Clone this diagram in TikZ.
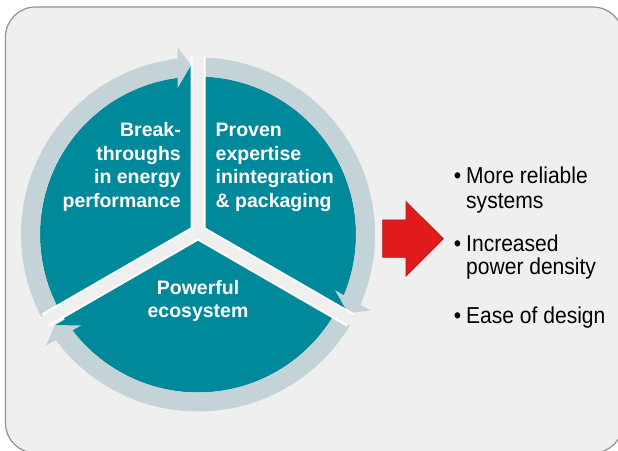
\documentclass[tikz,border=0pt]{standalone}
\usepackage{fontspec}
\setmainfont{Liberation Sans}
\newfontfamily\narrowsans[FakeStretch=0.915]{Liberation Sans}
\definecolor{tealc}{HTML}{00889B}
\definecolor{ringc}{HTML}{C3D3D7}
\definecolor{bgc}{HTML}{EFEFEF}
\definecolor{boxline}{HTML}{8E9397}
\definecolor{arrowred}{HTML}{E11A1B}
\definecolor{arrowedge}{HTML}{B8161A}
\tikzset{
  segtext/.style={text=white, inner sep=0pt, font=\fontsize{19.5}{23.5}\selectfont\bfseries},
  listtext/.style={text=black, inner sep=0pt, font=\narrowsans\fontsize{23}{25}\selectfont},
  ringband/.style={fill=ringc},
  tealpatch/.style={fill=tealc},
  gapedge/.style={white, line width=15pt},
  gapcore/.style={bgc, line width=11pt, line cap=round}
}
\newcommand{\cycleunit}{%
  \fill[ringband] (210:177) arc[start angle=210, end angle=96, radius=177]
     -- (96:158) arc[start angle=96, end angle=210, radius=158] -- cycle;
  \fill[tealpatch] (-7,169.5) -- (-20.3,146.5) -- (-7,146.5) -- cycle;
  \fill[ringband] (-7,169.5) -- (-20.3,187.2) -- (-20.3,146.5) -- cycle;
}
\begin{document}
\begin{tikzpicture}[x=1pt,y=1pt]
\useasboundingbox (0,0) rectangle (618,450);
\fill[white] (0,0) rectangle (618,450);
\draw[boxline, fill=bgc, line width=1.2pt, rounded corners=30pt] (5.5,443) rectangle (623,-3);

% teal disk
\fill[tealc] (198,215.5) circle (158);

% three arcs with arrowheads
\begin{scope}[shift={(198,215.5)}]
  \cycleunit
\end{scope}
\begin{scope}[shift={(198,215.5)}, rotate=-120]
  \cycleunit
\end{scope}
\begin{scope}[shift={(198,215.5)}, rotate=-240]
  \cycleunit
\end{scope}

% Y-shaped gap
\coordinate (g) at (198,218);
\draw[gapedge] (g) -- ++(90:176) (g) -- ++(-30:176) (g) -- ++(210:176);
\draw[gapcore] (g) -- ++(90:176) (g) -- ++(-30:176) (g) -- ++(210:176);

% segment texts
\node[segtext, anchor=base east] (l1) at (181,313) {Break-};
\node[segtext, anchor=base east] (l2) at (181,289.5) {throughs};
\node[segtext, anchor=base east] (l3) at (181,266) {in energy};
\node[segtext, anchor=base east] (l4) at (181,242.5) {performance};

\node[segtext, anchor=base west] (r1) at (215.5,313) {Proven};
\node[segtext, anchor=base west] (r2) at (215.5,289.5) {expertise};
\node[segtext, anchor=base west] (r3) at (215.5,266) {inintegration};
\node[segtext, anchor=base west] (r4) at (215.5,242.5) {\& packaging};

\node[segtext, anchor=base] (b1) at (198,155) {Powerful};
\node[segtext, anchor=base] (b2) at (198,132) {ecosystem};

% red block arrow
\fill[arrowred, draw=arrowedge, line width=0.8pt]
  (382.7,230) -- (406,230) -- (406,248.3) -- (443.3,211.3) -- (406,174)
  -- (406,192.7) -- (382.7,192.7) -- cycle;

% bullet list
\node[listtext, anchor=base] (d1) at (457.5,266.7) {•};
\node[listtext, anchor=base west] (t1) at (466,266.7) {More reliable};
\node[listtext, anchor=base west] (t1b) at (466,241.7) {systems};
\node[listtext, anchor=base] (d2) at (457.5,198.3) {•};
\node[listtext, anchor=base west] (t2) at (466,198.3) {Increased};
\node[listtext, anchor=base west] (t2b) at (466,175) {power density};
\node[listtext, anchor=base] (d3) at (457.5,126.7) {•};
\node[listtext, anchor=base west] (t3) at (466,126.7) {Ease of design};
\end{tikzpicture}
\end{document}
